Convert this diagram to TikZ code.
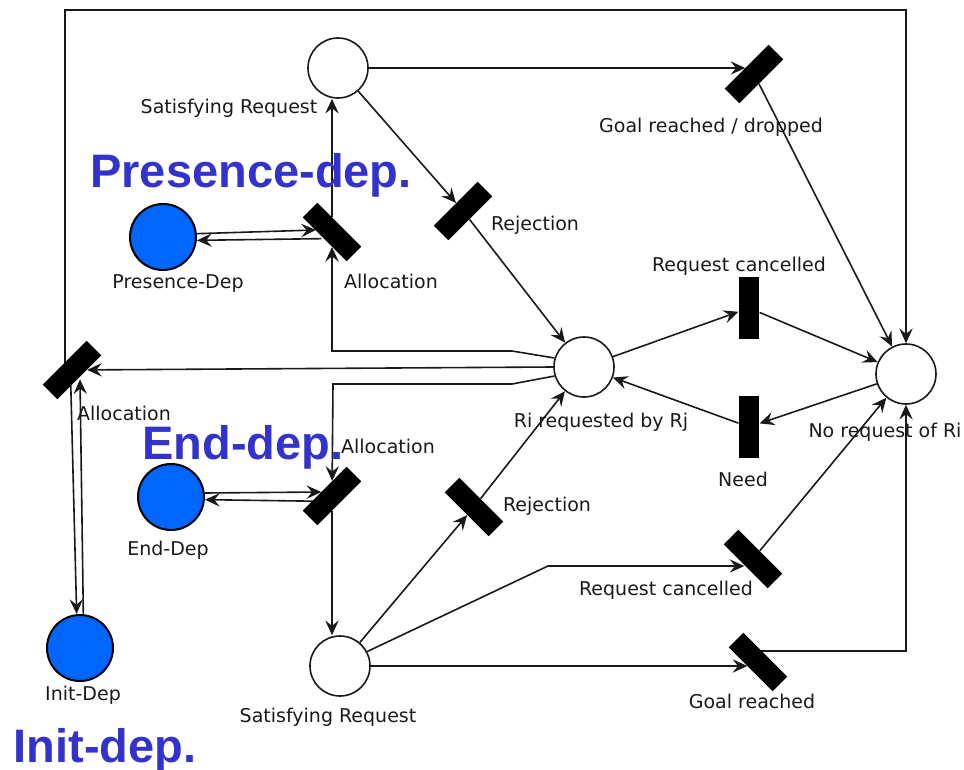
\documentclass[tikz,border=0pt]{standalone}
\usepackage{fontspec}
\setmainfont{DejaVu Sans}
\newfontfamily\bigfont{Liberation Sans}
\usetikzlibrary{arrows.meta,backgrounds,calc}
\definecolor{bluefill}{RGB}{0,102,255}
\definecolor{labblue}{RGB}{51,51,204}
\definecolor{ink}{RGB}{25,25,25}
\begin{document}
\begin{tikzpicture}[x=0.75pt,y=-0.75pt,
  place/.style={circle,draw=ink,line width=1.2pt,fill=white,minimum size=45pt,inner sep=0},
  dep/.style={circle,draw=black,line width=1.5pt,fill=bluefill,minimum size=49.5pt,inner sep=0},
  trans/.style={rectangle,fill=black,minimum width=15.5pt,minimum height=46.5pt,inner sep=0},
  arr/.style={draw=ink,line width=1.2pt,-{Stealth[length=11pt,width=10pt,inset=4pt]}},
  lab/.style={font=\fontsize{14.25}{17}\selectfont,text=ink,anchor=base,inner sep=0},
  big/.style={font=\bigfont\bfseries\fontsize{35.25}{40}\selectfont,text=labblue,anchor=base,inner sep=0}]
\useasboundingbox (0,0) rectangle (964,770);

% places
\node[place] (srT) at (338,68) {};
\node[place] (ri) at (584,367) {};
\node[place] (noR) at (906,374) {};
\node[place] (srB) at (340,666) {};
\node[dep] (pres) at (163,237) {};
\node[dep] (endd) at (171,497) {};
\node[dep] (init) at (80,648) {};

% transitions
\node[trans,rotate=-45] (grd) at (754,74) {};
\node[trans,rotate=-45] (rejT) at (463,211) {};
\node[trans,rotate=45] (allocT) at (332,232) {};
\node[trans] (rcT) at (749,308) {};
\node[trans] (need) at (749,427) {};
\node[trans,rotate=-45] (allocL) at (72,370) {};
\node[trans,rotate=-45] (allocE) at (332,496) {};
\node[trans,rotate=45] (rejB) at (474,507) {};
\node[trans,rotate=45] (rcB) at (753,559) {};
\node[trans,rotate=45] (gr) at (758,662) {};

% bend points
\coordinate (a1) at (512,351); \coordinate (a2) at (332,351);
\coordinate (b1) at (512,384); \coordinate (b2) at (333,384);
\coordinate (f1) at (65,10);   \coordinate (f2) at (906,10);
\coordinate (c1) at (548,566);
\coordinate (g1) at (906,651);

\begin{scope}[on background layer]
\draw[arr,shorten >=6.5pt] (srT.east) -- (srT.east -| grd.center);
\draw[arr] (srT) -- (rejT);
\draw[arr] (grd) -- (noR);
\draw[arr] (rejT) -- (ri);
\draw[arr] (allocT) -- (allocT |- srT.south);
\draw[arr] (ri.163) -- (a1) -- (a2) -- (allocT);
\draw[arr] (ri.west) -- (allocL);
\draw[arr] (ri.197) -- (b1) -- (b2) -- (allocE);
\draw[arr] (allocE) -- (allocE |- srB.north);
\draw[arr] (allocL.center -| f1) -- (f1) -- (f2) -- (noR);
% dependency arcs
\draw[arr] ([yshift=2.5pt]pres.east) -- ([xshift=-12pt,yshift=1.5pt]allocT.center);
\draw[arr] ([xshift=-8pt,yshift=-5pt]allocT.center) -- ([yshift=-2.5pt]pres.east);
\draw[arr] ([yshift=3pt]endd.east) -- ([xshift=-8pt,yshift=3pt]allocE.center);
\draw[arr] ([xshift=-6pt,yshift=-4pt]allocE.center) -- ([yshift=-2pt]endd.east);
\draw[arr] ([xshift=-1pt,yshift=-8pt]allocL.center) -- ([xshift=-2.5pt]init.north);
\draw[arr] ([xshift=2.5pt]init.north) -- ([xshift=6pt,yshift=-7pt]allocL.center);
% right part
\draw[arr] (ri) -- (rcT);
\draw[arr] (rcT) -- (noR);
\draw[arr] (noR) -- (need);
\draw[arr] (need) -- (ri);
\draw[arr] (srB) -- (rejB);
\draw[arr] (rejB) -- (ri);
\draw[arr,shorten >=6.5pt] (srB.28) -- (c1) -- (c1 -| rcB.center);
\draw[arr] (rcB) -- (noR);
\draw[arr,shorten >=8pt] (srB.east) -- (srB.east -| gr.center);
\draw[arr] (gr.center |- g1) -- (g1) -- (noR);
\end{scope}

% labels
\node[lab] (lsrT) at (229,114) {Satisfying Request};
\node[lab] (lgrd) at (711,133) {Goal reached / dropped};
\node[lab] (lrejT) at (535,231) {Rejection};
\node[lab] (lpres) at (178,288) {Presence-Dep};
\node[lab] (lallocT) at (391,288) {Allocation};
\node[lab] (lrcT) at (739,272) {Request cancelled};
\node[lab] (lallocL) at (124,420) {Allocation};
\node[lab] (lallocE) at (388,453) {Allocation};
\node[lab] (lri) at (601,427) {Ri requested by Rj};
\node[lab] (lnoR) at (885,437) {No request of Ri};
\node[lab] (lneed) at (743,486) {Need};
\node[lab] (lend) at (168,555) {End-Dep};
\node[lab] (lrejB) at (547,511) {Rejection};
\node[lab] (lrcB) at (666,595) {Request cancelled};
\node[lab] (linit) at (83,700) {Init-Dep};
\node[lab] (lsrB) at (328,722) {Satisfying Request};
\node[lab] (lgr) at (752,708) {Goal reached};

% big annotations
\node[big] (bpres) at (251,188) {Presence-dep.};
\node[big] (bend) at (243,459) {End-dep.};
\node[big] (binit) at (105,762) {Init-dep.};
\end{tikzpicture}
\end{document}
